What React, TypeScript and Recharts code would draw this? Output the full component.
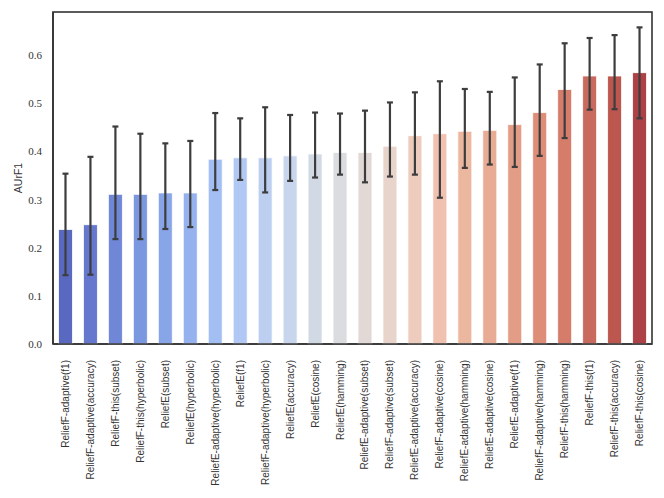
import * as R from 'recharts';
import { Bar, BarChart, Cell, ErrorBar, XAxis, YAxis } from 'recharts';

const methods = [
  'ReliefF-adaptive(f1)',
  'ReliefF-adaptive(accuracy)',
  'ReliefF-this(subset)',
  'ReliefF-this(hyperbolic)',
  'ReliefE(subset)',
  'ReliefE(hyperbolic)',
  'ReliefE-adaptive(hyperbolic)',
  'ReliefE(f1)',
  'ReliefF-adaptive(hyperbolic)',
  'ReliefE(accuracy)',
  'ReliefE(cosine)',
  'ReliefE(hamming)',
  'ReliefE-adaptive(subset)',
  'ReliefF-adaptive(subset)',
  'ReliefE-adaptive(accuracy)',
  'ReliefF-adaptive(cosine)',
  'ReliefE-adaptive(hamming)',
  'ReliefE-adaptive(cosine)',
  'ReliefE-adaptive(f1)',
  'ReliefF-adaptive(hamming)',
  'ReliefF-this(hamming)',
  'ReliefF-this(f1)',
  'ReliefF-this(accuracy)',
  'ReliefF-this(cosine)',
];

const means = [
  0.238, 0.248, 0.311, 0.311, 0.314, 0.314, 0.384, 0.387, 0.387, 0.391, 0.395, 0.398,
  0.398, 0.411, 0.433, 0.437, 0.442, 0.444, 0.456, 0.481, 0.529, 0.557, 0.557, 0.564,
];

const lows = [
  0.143, 0.144, 0.218, 0.218, 0.239, 0.243, 0.320, 0.341, 0.315, 0.339, 0.346, 0.352,
  0.336, 0.348, 0.352, 0.304, 0.366, 0.373, 0.368, 0.391, 0.428, 0.487, 0.488, 0.469,
];

const highs = [
  0.354, 0.389, 0.452, 0.437, 0.417, 0.422, 0.480, 0.469, 0.492, 0.476, 0.481, 0.479,
  0.485, 0.502, 0.523, 0.546, 0.530, 0.524, 0.554, 0.581, 0.625, 0.636, 0.642, 0.658,
];

const colors = [
  '#5a69c0', '#6578cd', '#7087d8', '#7b97e0', '#88a5e8', '#96b2ee', '#a3bef3', '#b0c8f3',
  '#bccff1', '#c7d5ed', '#d1d9e5', '#dadcdf', '#e2d9d6', '#e8d4ca', '#edcbbd', '#efc1ae',
  '#ecb79f', '#e8ab93', '#e39d86', '#dd8d78', '#d57c6b', '#c96a5e', '#bc5750', '#ad4145',
];

const yTicks = [0, 0.1, 0.2, 0.3, 0.4, 0.5, 0.6];

const data = methods.map((name, i) => ({
  name,
  value: means[i],
  err: [means[i] - lows[i], highs[i] - means[i]],
}));

const frame = { stroke: '#333', strokeWidth: 1.6 };

// box round the plot area, like the matplotlib spines
function Frame() {
  const area = (R as any).usePlotArea ? (R as any).usePlotArea() : null;
  if (!area) return null;
  return (
    <rect
      x={area.x}
      y={area.y}
      width={area.width}
      height={area.height}
      fill="none"
      stroke="#333"
      strokeWidth={1.6}
    />
  );
}

function MethodTick({ x, y, payload }: any) {
  return (
    <text
      x={x}
      y={y + 8}
      dy="0.35em"
      transform={`rotate(-90, ${x}, ${y + 8})`}
      textAnchor="end"
      fontFamily="Liberation Sans, sans-serif"
      fontSize={10}
      fill="#333"
    >
      {payload.value}
    </text>
  );
}

export default function App() {
  return (
    <div style={{ position: 'absolute', left: 0, top: 0, width: 664, height: 498, background: '#fff' }}>
      <BarChart
        width={664}
        height={498}
        data={data}
        margin={{ top: 12, right: 12, bottom: 0, left: 0 }}
        barCategoryGap="22%"
      >
        <XAxis
          dataKey="name"
          interval={0}
          height={154}
          tick={<MethodTick />}
          tickLine={false}
          axisLine={frame}
        />
        <YAxis
          width={53}
          domain={[0, 0.69]}
          ticks={yTicks}
          tickFormatter={(v: number) => v.toFixed(1)}
          tickLine={false}
          tickSize={0}
          tickMargin={11}
          tick={{ fontFamily: 'Liberation Serif, serif', fontSize: 11, fill: '#333' }}
          axisLine={frame}
          label={{
            content: ({ viewBox }: any) => {
              const cx = viewBox.x + 18;
              const cy = viewBox.y + viewBox.height / 2;
              return (
                <text
                  x={cx}
                  y={cy}
                  dy="0.35em"
                  transform={`rotate(-90, ${cx}, ${cy})`}
                  textAnchor="middle"
                  fontFamily="Liberation Sans, sans-serif"
                  fontSize={10.5}
                  fill="#333"
                >
                  AUrF1
                </text>
              );
            },
          }}
        />
        <Bar dataKey="value" isAnimationActive={false} stroke="#fff" strokeWidth={0.8}>
          {data.map((d, i) => (
            <Cell key={d.name} fill={colors[i]} />
          ))}
          <ErrorBar dataKey="err" direction="y" width={3} stroke="#3d3d3d" strokeWidth={2.2} />
        </Bar>
        <Frame />
      </BarChart>
    </div>
  );
}
